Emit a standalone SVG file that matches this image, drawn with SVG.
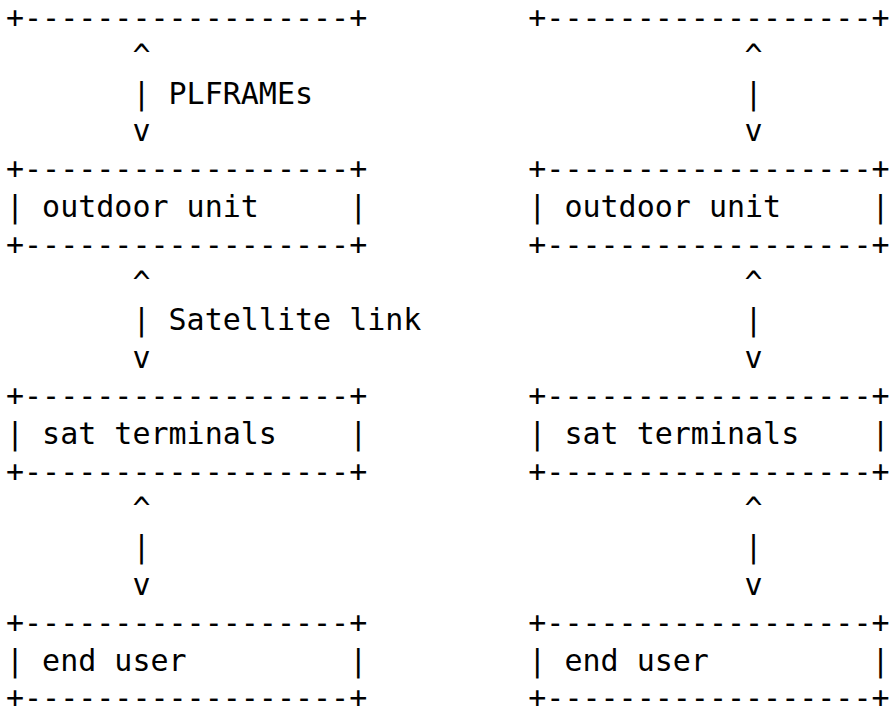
<svg xmlns="http://www.w3.org/2000/svg" width="890" height="712" viewBox="0 0 890 712">
<style>
text { font-family: "DejaVu Sans Mono", "Liberation Mono", monospace; font-size: 30px; fill: #000; white-space: pre; }
</style>
<rect width="890" height="712" fill="#fff"/>
<g id="top-left-edge"><text x="6" y="28" xml:space="preserve">+------------------+</text></g>
<g id="top-right-edge"><text x="528.3" y="28" xml:space="preserve">+------------------+</text></g>
<g id="outdoor-left">
<text x="6" y="179.2" xml:space="preserve">+------------------+</text>
<text x="6" y="217" xml:space="preserve">| outdoor unit     |</text>
<text x="6" y="254.8" xml:space="preserve">+------------------+</text>
</g>
<g id="outdoor-right">
<text x="528.3" y="179.2" xml:space="preserve">+------------------+</text>
<text x="528.3" y="217" xml:space="preserve">| outdoor unit     |</text>
<text x="528.3" y="254.8" xml:space="preserve">+------------------+</text>
</g>
<g id="sat-left">
<text x="6" y="406" xml:space="preserve">+------------------+</text>
<text x="6" y="443.8" xml:space="preserve">| sat terminals    |</text>
<text x="6" y="481.6" xml:space="preserve">+------------------+</text>
</g>
<g id="sat-right">
<text x="528.3" y="406" xml:space="preserve">+------------------+</text>
<text x="528.3" y="443.8" xml:space="preserve">| sat terminals    |</text>
<text x="528.3" y="481.6" xml:space="preserve">+------------------+</text>
</g>
<g id="user-left">
<text x="6" y="632.8" xml:space="preserve">+------------------+</text>
<text x="6" y="670.6" xml:space="preserve">| end user         |</text>
<text x="6" y="708" xml:space="preserve">+------------------+</text>
</g>
<g id="user-right">
<text x="528.3" y="632.8" xml:space="preserve">+------------------+</text>
<text x="528.3" y="670.6" xml:space="preserve">| end user         |</text>
<text x="528.3" y="708" xml:space="preserve">+------------------+</text>
</g>
<g id="connectors">
<text x="132.4" y="65.8">^</text>
<text x="132.4" y="103.6" xml:space="preserve">| PLFRAMEs</text>
<text x="132.4" y="141.4">v</text>
<text x="744.6" y="65.8">^</text>
<text x="744.6" y="103.6">|</text>
<text x="744.6" y="141.4">v</text>
<text x="132.4" y="292.6">^</text>
<text x="132.4" y="330.4" xml:space="preserve">| Satellite link</text>
<text x="132.4" y="368.2">v</text>
<text x="744.6" y="292.6">^</text>
<text x="744.6" y="330.4">|</text>
<text x="744.6" y="368.2">v</text>
<text x="132.4" y="519.4">^</text>
<text x="132.4" y="557.2">|</text>
<text x="132.4" y="595">v</text>
<text x="744.6" y="519.4">^</text>
<text x="744.6" y="557.2">|</text>
<text x="744.6" y="595">v</text>
</g>
</svg>
